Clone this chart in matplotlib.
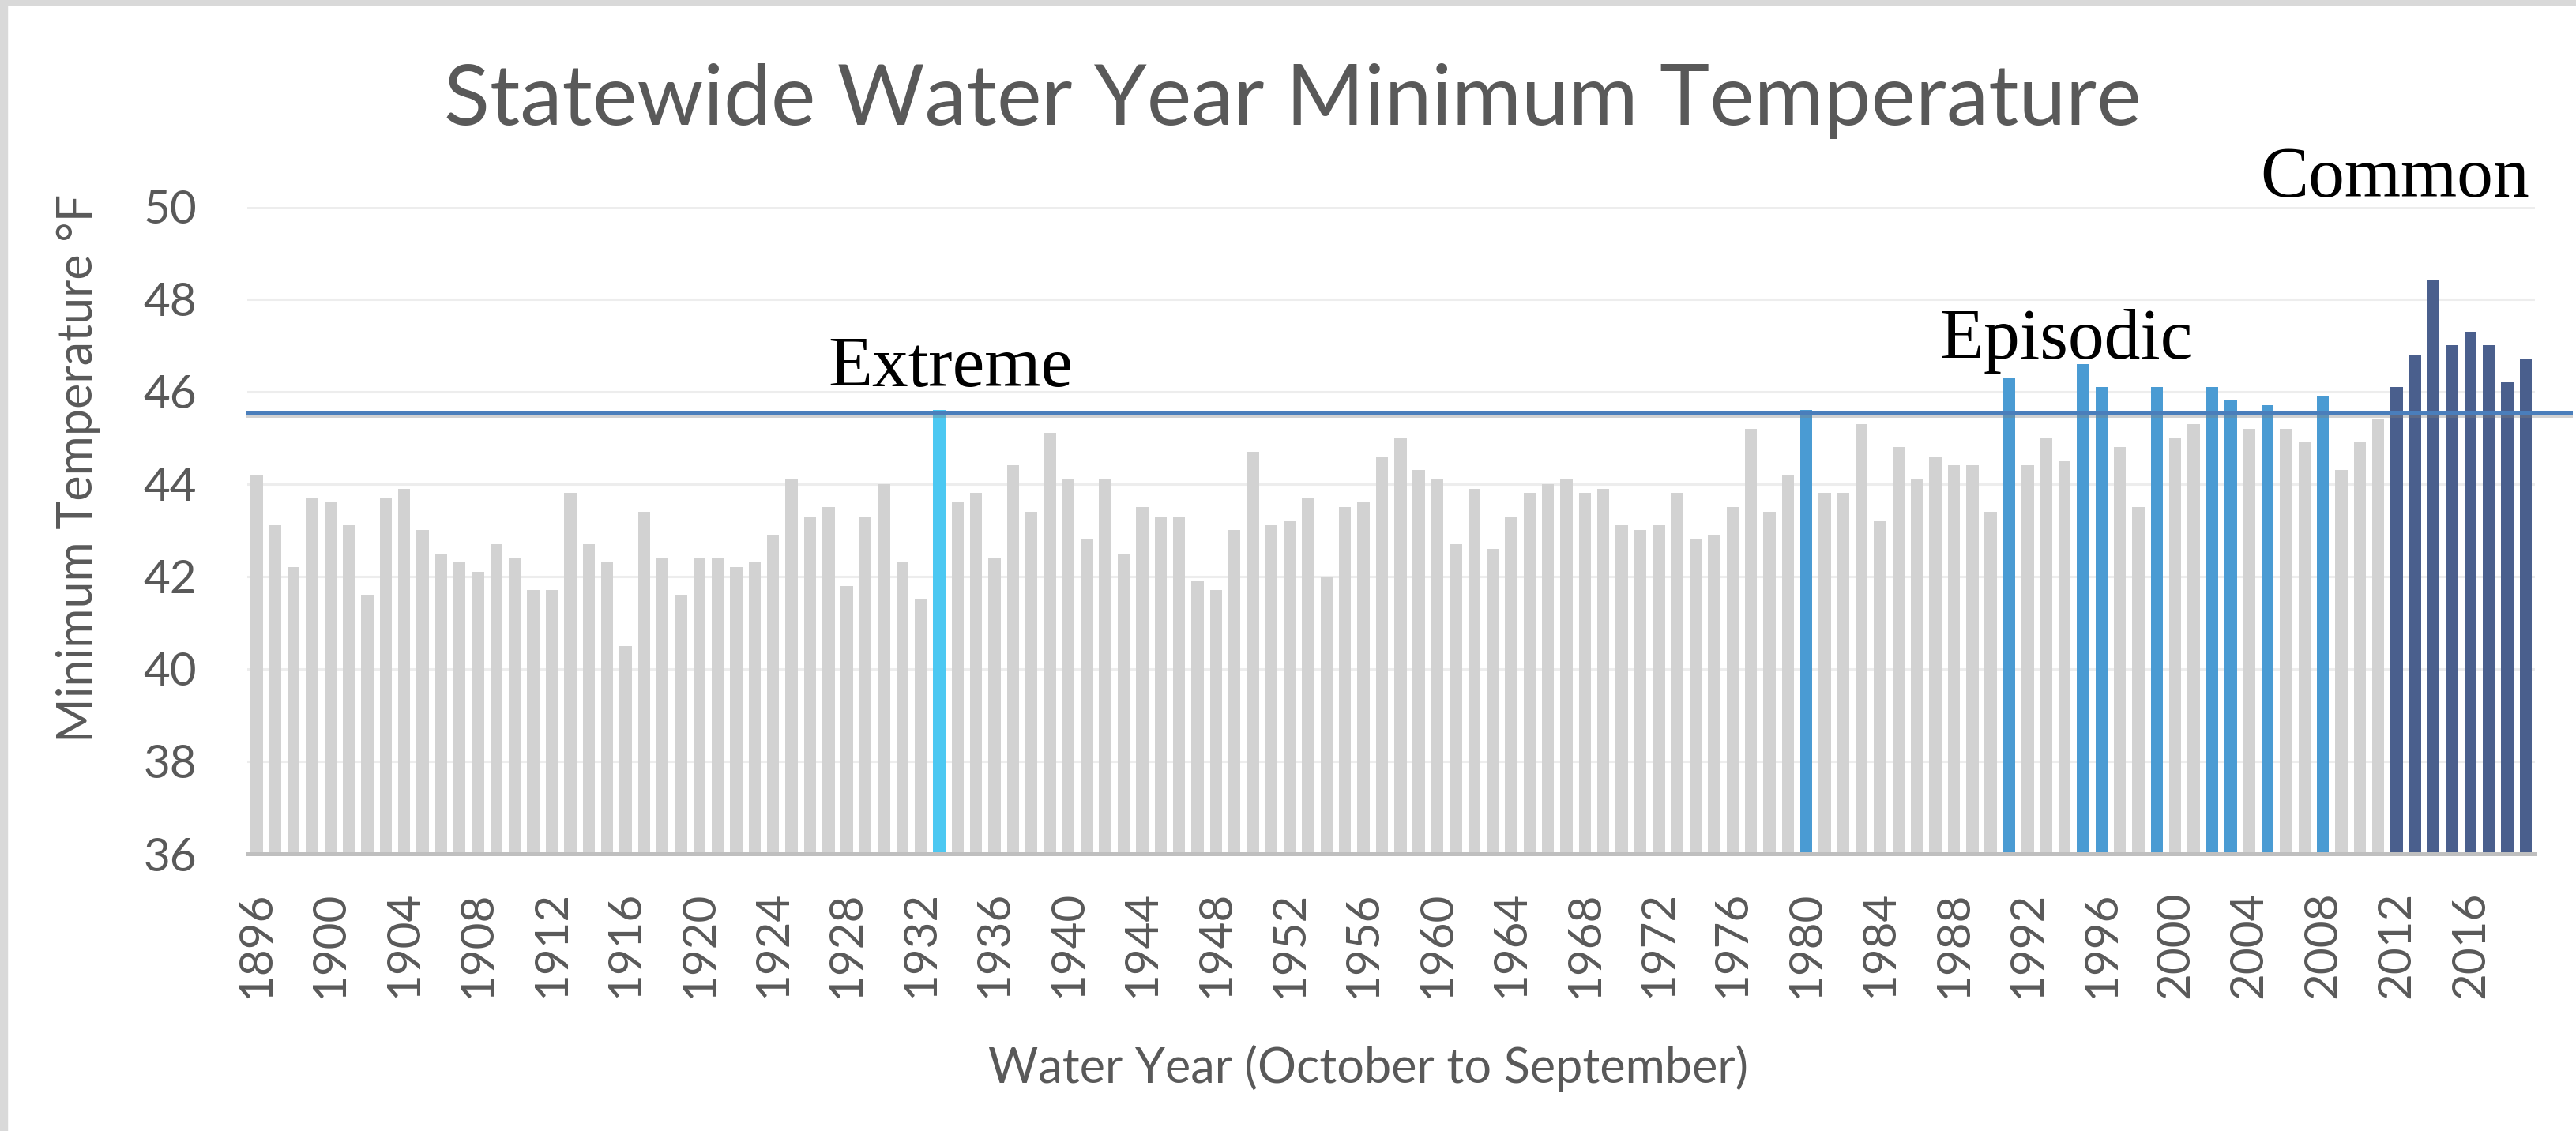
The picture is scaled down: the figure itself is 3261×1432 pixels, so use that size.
import numpy as np
import matplotlib
import matplotlib.pyplot as plt
import matplotlib.patheffects as pe
from matplotlib.patches import Rectangle

matplotlib.use("Agg")

# water years shown on the chart
years = list(range(1896, 2020))

# statewide water year minimum temperature (deg F)
min_temp = [
    44.2, 43.1, 42.2, 43.7, 43.6, 43.1, 41.6, 43.7, 43.9, 43.0,  # 1896-1905
    42.5, 42.3, 42.1, 42.7, 42.4, 41.7, 41.7, 43.8, 42.7, 42.3,  # 1906-1915
    40.5, 43.4, 42.4, 41.6, 42.4, 42.4, 42.2, 42.3, 42.9, 44.1,  # 1916-1925
    43.3, 43.5, 41.8, 43.3, 44.0, 42.3, 41.5, 45.6, 43.6, 43.8,  # 1926-1935
    42.4, 44.4, 43.4, 45.1, 44.1, 42.8, 44.1, 42.5, 43.5, 43.3,  # 1936-1945
    43.3, 41.9, 41.7, 43.0, 44.7, 43.1, 43.2, 43.7, 42.0, 43.5,  # 1946-1955
    43.6, 44.6, 45.0, 44.3, 44.1, 42.7, 43.9, 42.6, 43.3, 43.8,  # 1956-1965
    44.0, 44.1, 43.8, 43.9, 43.1, 43.0, 43.1, 43.8, 42.8, 42.9,  # 1966-1975
    43.5, 45.2, 43.4, 44.2, 45.6, 43.8, 43.8, 45.3, 43.2, 44.8,  # 1976-1985
    44.1, 44.6, 44.4, 44.4, 43.4, 46.3, 44.4, 45.0, 44.5, 46.6,  # 1986-1995
    46.1, 44.8, 43.5, 46.1, 45.0, 45.3, 46.1, 45.8, 45.2, 45.7,  # 1996-2005
    45.2, 44.9, 45.9, 44.3, 44.9, 45.4, 46.1, 46.8, 48.4, 47.0,  # 2006-2015
    47.3, 47.0, 46.2, 46.7,                                      # 2016-2019
]

extreme_years = [1933]
episodic_years = [1980, 1991, 1995, 1996, 1999, 2002, 2003, 2005, 2008]
common_years = [2012, 2013, 2014, 2015, 2016, 2017, 2018, 2019]

threshold = 45.55
tick_years = list(range(1896, 2017, 4))

GREY_BAR = "#D2D2D2"
C_EXTREME = "#4CC8F2"
C_EPISODIC = "#4A9BD3"
C_COMMON = "#4A5F8D"
TXT = "#595959"

colors = []
for y in years:
    if y in extreme_years:
        colors.append(C_EXTREME)
    elif y in episodic_years:
        colors.append(C_EPISODIC)
    elif y in common_years:
        colors.append(C_COMMON)
    else:
        colors.append(GREY_BAR)

plt.rcParams["font.family"] = ["Lato", "DejaVu Sans"]

fig = plt.figure(figsize=(32.62, 14.32), dpi=100)
ax = fig.add_axes([0.096, 0.2451, 0.8878, 0.5722])

x = np.arange(len(years))
ax.bar(x, np.array(min_temp) - 36, bottom=36, width=0.66, color=colors,
       zorder=2)

ax.set_xlim(-0.5, len(years) - 0.5)
ax.set_ylim(36, 50)
ax.set_yticks(range(36, 51, 2))
ax.grid(axis="y", color="#EDEDED", linewidth=2.2, zorder=0)
ax.set_axisbelow(True)
for s in ["top", "right", "left"]:
    ax.spines[s].set_visible(False)
ax.spines["bottom"].set_color("#BFBFBF")
ax.spines["bottom"].set_linewidth(3.6)
ax.spines["bottom"].set_zorder(3)

ax.set_xticks([years.index(t) for t in tick_years])
ax.set_xticklabels([str(t) for t in tick_years], rotation=90)
ax.tick_params(axis="x", length=0, pad=34, labelsize=42, labelcolor=TXT)
ax.tick_params(axis="y", length=0, pad=46, labelsize=42, labelcolor=TXT)

ax.set_ylabel("Minimum Temperature °F", fontsize=44, color=TXT)
ax.yaxis.set_label_coords(-0.064, 0.596)
ax.set_xlabel("Water Year (October to September)", fontsize=44, color=TXT)
ax.xaxis.set_label_coords(0.49, -0.295)

# threshold line with a soft shadow, running a bit past the plot area
ax.axhline(threshold, xmin=0.0, xmax=1.0155, color="#4A7EBB", linewidth=3.6,
           clip_on=False, zorder=4,
           path_effects=[pe.SimpleLineShadow(offset=(0, -2.5),
                                             shadow_color="#808080",
                                             alpha=0.35),
                         pe.Normal()])

serif = ["Liberation Serif", "DejaVu Serif"]
ax.text(years.index(1933) + 0.6, 46.12, "Extreme", family=serif,
        fontsize=66, ha="center", va="baseline", color="black")
ax.text(years.index(1994) + 0.1, 46.71, "Episodic", family=serif,
        fontsize=66, ha="center", va="baseline", color="black")
ax.text(years.index(2012) - 0.1, 50.22, "Common", family=serif,
        fontsize=66, ha="center", va="baseline", color="black")

fig.text(0.5016, 0.8897, "Statewide Water Year Minimum Temperature",
         fontsize=77, fontweight="normal", color=TXT, ha="center",
         va="baseline")

# light grey frame on the top and left edges
fig.patches.append(Rectangle((0, 0), 9 / 3262, 1, transform=fig.transFigure,
                             color="#D9D9D9", zorder=0))
fig.patches.append(Rectangle((0, 1 - 6 / 1432), 1, 6 / 1432,
                             transform=fig.transFigure, color="#D9D9D9",
                             zorder=0))

fig.savefig("out.png", dpi=100)
